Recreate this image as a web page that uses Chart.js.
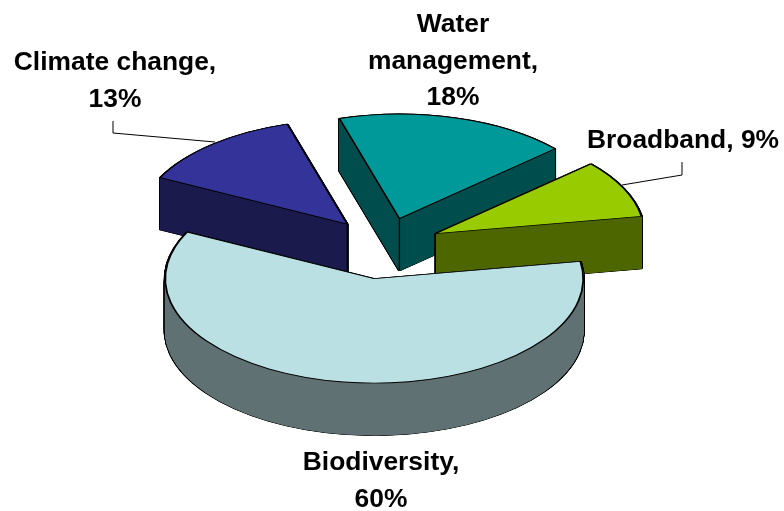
<!DOCTYPE html>
<html>
<head>
<meta charset="utf-8">
<style>
html, body { margin: 0; padding: 0; background: #fff; }
#wrap { width: 784px; height: 511px; }
</style>
<script src="https://cdn.jsdelivr.net/npm/chart.js@4"></script>
</head>
<body>
<div id="wrap"><canvas id="pie3d"></canvas></div>
<script>
var categories = ['Biodiversity', 'Climate change', 'Water\nmanagement', 'Broadband'];
var shares = [60, 13, 18, 9];
var topColors = ['#bbe0e3', '#333399', '#009999', '#99cc00'];
var sideColors = ['#5f7173', '#1a1a4d', '#004d4d', '#4d6600'];

// biodiversity goes last, it sits in front of the other walls
var drawOrder = [1, 2, 3, 0];
var tilt = 0.5;
var depth = 52;
var explode = [66, 57, 57, 57];

var labelSpots = [
    { x: 381, y: 470, oneLine: false },
    { x: 115, y: 70, oneLine: false },
    { x: 453, y: 32, oneLine: false },
    { x: 683, y: 148, oneLine: true }
];
var leaders = [
    [[113, 121], [113, 133], [215, 142]],
    [[682, 162], [682, 175], [622, 185]]
];

function drawArcWith(arc, ctx, opts) {
    var base = arc.options;
    arc.options = Object.assign({}, base, opts);
    arc.draw(ctx);
    arc.options = base;
}

// stack the arc on a spare canvas and flood it, repeated antialiasing on the
// real canvas leaves stripes in the wall
function stampWall(arc, ctx, wall, color, lineWidth) {
    var spare = document.createElement('canvas');
    spare.width = ctx.canvas.width;
    spare.height = ctx.canvas.height;
    var sctx = spare.getContext('2d');
    sctx.setTransform(ctx.getTransform());
    for (var d = wall; d > 0; d -= 0.5) {
        sctx.save();
        sctx.translate(0, d);
        drawArcWith(arc, sctx, { backgroundColor: '#000', borderColor: '#000', borderWidth: lineWidth });
        sctx.restore();
    }
    sctx.setTransform(1, 0, 0, 1, 0, 0);
    sctx.globalCompositeOperation = 'source-in';
    sctx.fillStyle = color;
    sctx.fillRect(0, 0, spare.width, spare.height);

    ctx.save();
    ctx.setTransform(1, 0, 0, 1, 0, 0);
    ctx.drawImage(spare, 0, 0);
    ctx.restore();
}

var tiltedPie = {
    id: 'tiltedPie',
    beforeDatasetDraw: function(chart, args) {
        var ctx = chart.ctx;
        var arcs = args.meta.data;
        var cx = arcs[0].x, cy = arcs[0].y;
        var wall = depth / tilt;

        ctx.save();
        ctx.translate(cx, cy);
        ctx.scale(1, tilt);
        ctx.translate(-cx, -cy);

        drawOrder.forEach(function(i) {
            var arc = arcs[i];
            var mid = (arc.startAngle + arc.endAngle) / 2;
            ctx.save();
            ctx.translate(Math.cos(mid) * explode[i], Math.sin(mid) * explode[i]);

            // black silhouette first, then the wall colour inside it
            stampWall(arc, ctx, wall, '#000', 3);
            stampWall(arc, ctx, wall, sideColors[i], 0.8);

            ctx.beginPath();
            ctx.moveTo(cx, cy);
            ctx.lineTo(cx, cy + wall);
            ctx.strokeStyle = '#000';
            ctx.lineWidth = 1.3;
            ctx.stroke();

            drawArcWith(arc, ctx, { backgroundColor: topColors[i], borderColor: '#000', borderWidth: 1.8 });
            ctx.restore();
        });

        ctx.restore();
        return false;
    },
    afterDraw: function(chart) {
        var ctx = chart.ctx;
        ctx.save();
        ctx.strokeStyle = '#000';
        ctx.lineWidth = 1;
        leaders.forEach(function(line) {
            ctx.beginPath();
            line.forEach(function(p, n) {
                if (n === 0) ctx.moveTo(p[0], p[1]);
                else ctx.lineTo(p[0], p[1]);
            });
            ctx.stroke();
        });

        ctx.fillStyle = '#000';
        ctx.font = 'bold 26.4px "Liberation Sans", Arial, sans-serif';
        ctx.textAlign = 'center';
        ctx.textBaseline = 'alphabetic';
        categories.forEach(function(name, i) {
            var spot = labelSpots[i];
            var lines = spot.oneLine
                ? [name + ', ' + shares[i] + '%']
                : (name + ',').split('\n').concat(shares[i] + '%');
            lines.forEach(function(text, n) {
                ctx.fillText(text, spot.x, spot.y + n * 36.5);
            });
        });
        ctx.restore();
    }
};

var cpie = document.getElementById('pie3d');
var chartpie = new Chart(cpie, {
    type: 'pie',
    data: {
        labels: categories,
        datasets: [{
            data: shares,
            backgroundColor: topColors,
            borderWidth: 0
        }]
    },
    options: {
        responsive: true,
        maintainAspectRatio: false,
        animation: false,
        rotation: 80.5,
        radius: 209,
        layout: { padding: { right: 16, bottom: 19 } },
        plugins: {
            legend: { display: false },
            tooltip: { enabled: false }
        }
    },
    plugins: [tiltedPie]
});
</script>
</body>
</html>
